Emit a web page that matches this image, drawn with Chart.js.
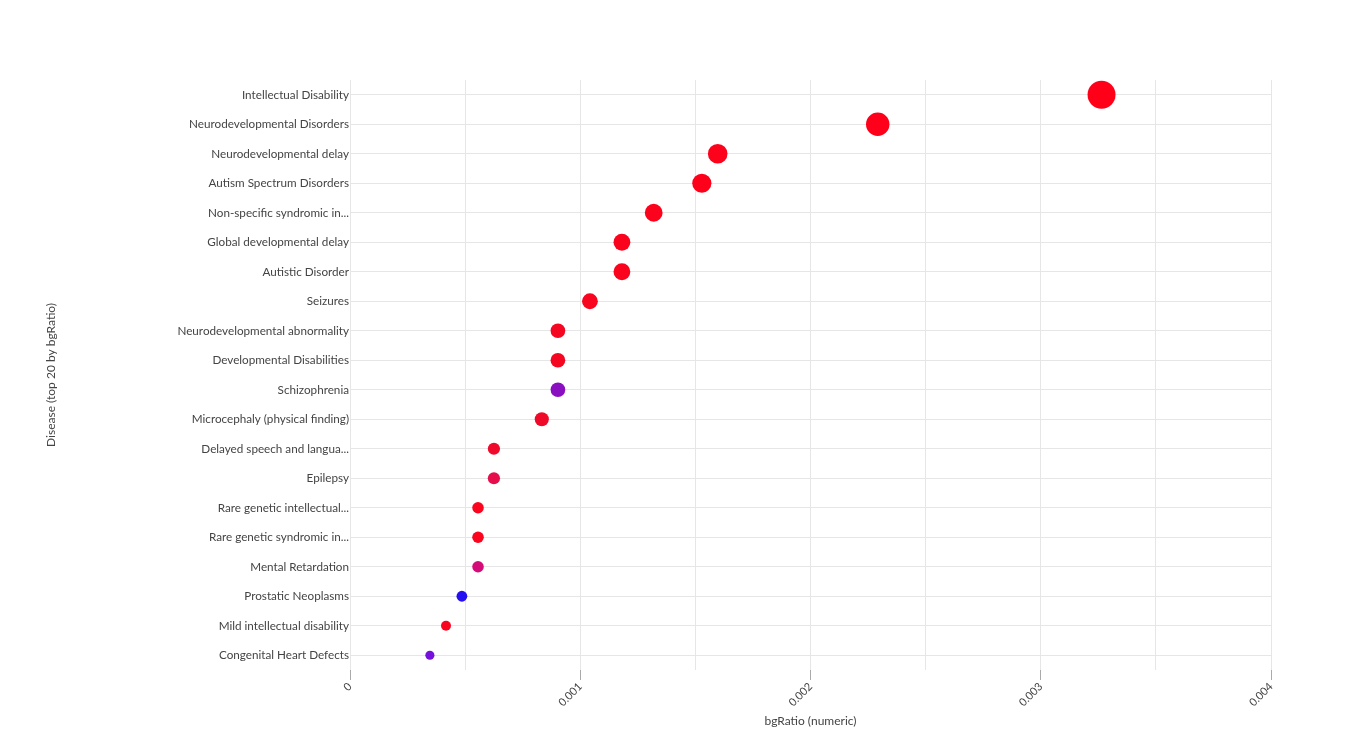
<!DOCTYPE html>
<html>
<head>
<meta charset="utf-8">
<script src="https://cdn.jsdelivr.net/npm/chart.js@4.4.1/dist/chart.umd.min.js"></script>
<style>
  html, body { margin: 0; padding: 0; background: #fff; }
  #wrap { width: 1371px; height: 750px; }
</style>
</head>
<body>
<div id="wrap"><canvas id="diseaseChart"></canvas></div>
<script>
// Disease names, top to bottom
const diseases = [
  "Intellectual Disability",
  "Neurodevelopmental Disorders",
  "Neurodevelopmental delay",
  "Autism Spectrum Disorders",
  "Non-specific syndromic in...",
  "Global developmental delay",
  "Autistic Disorder",
  "Seizures",
  "Neurodevelopmental abnormality",
  "Developmental Disabilities",
  "Schizophrenia",
  "Microcephaly (physical finding)",
  "Delayed speech and langua...",
  "Epilepsy",
  "Rare genetic intellectual...",
  "Rare genetic syndromic in...",
  "Mental Retardation",
  "Prostatic Neoplasms",
  "Mild intellectual disability",
  "Congenital Heart Defects",
];

// bgRatio per disease
const bgRatio = [
  0.003264, 0.002292, 0.001597, 0.001528, 0.001319,
  0.001181, 0.001181, 0.001042, 0.000903, 0.000903,
  0.000903, 0.000833, 0.000625, 0.000625, 0.000556,
  0.000556, 0.000556, 0.000486, 0.000417, 0.000347,
];

// background gene counts (bubble size)
const bgCount = [47, 33, 23, 22, 19, 17, 17, 15, 13, 13, 13, 12, 9, 9, 8, 8, 8, 7, 6, 5];

// marker colours
const markerColors = [
  "#ff0018", "#fe0019", "#fc021b", "#fd011a", "#fb031c",
  "#fa041d", "#fa041d", "#f8051f", "#f50722", "#f50722",
  "#8a0fc0", "#f00a2a", "#f00a2c", "#e60f4c", "#fa041e",
  "#fa041e", "#d40c78", "#2410f0", "#f80520", "#7610dc",
];

// x axis ticks
const X_MIN = 0;
const X_MAX = 0.004;
const X_STEP = 0.0005;

const GRID_COLOR = "#e6e6e6";
const TEXT_COLOR = "#444";
const FONT = "Lato, 'Open Sans', sans-serif";

const isMajor = (v) => Math.round(v * 10000) % 10 === 0;

const points = diseases.map((name, i) => ({
  x: bgRatio[i],
  y: name,
  r: 2.04 * Math.sqrt(bgCount[i]),
}));

const ctx = document.getElementById("diseaseChart").getContext("2d");

new Chart(ctx, {
  type: "bubble",
  data: {
    labels: diseases,
    datasets: [
      {
        label: "Disease",
        data: points,
        backgroundColor: markerColors,
        borderColor: markerColors,
        borderWidth: 0,
        clip: false,
      },
    ],
  },
  options: {
    responsive: true,
    maintainAspectRatio: false,
    animation: false,
    layout: { padding: { left: 40, top: 80, right: 100, bottom: 16 } },
    plugins: {
      legend: { display: false },
      tooltip: { enabled: true },
    },
    scales: {
      x: {
        type: "linear",
        min: X_MIN,
        max: X_MAX,
        border: { display: false },
        grid: {
          color: GRID_COLOR,
          drawTicks: true,
          tickLength: 10,
          tickColor: (c) => (c.tick && isMajor(c.tick.value) ? "#aaa" : "rgba(0,0,0,0)"),
        },
        ticks: {
          stepSize: X_STEP,
          minRotation: 45,
          maxRotation: 45,
          padding: 0,
          color: TEXT_COLOR,
          font: { family: FONT, size: 11 },
          callback: (v) => (isMajor(v) ? String(Number(v.toFixed(4))) : ""),
        },
        title: {
          display: true,
          text: "bgRatio (numeric)",
          color: TEXT_COLOR,
          font: { family: FONT, size: 12 },
          padding: { top: 0, bottom: 6 },
        },
        afterFit: (scale) => {
          scale.height = 64;
        },
      },
      y: {
        type: "category",
        labels: diseases,
        offset: true,
        border: { display: false },
        grid: { color: GRID_COLOR, offset: false, drawTicks: false },
        ticks: {
          padding: 1,
          color: TEXT_COLOR,
          font: { family: FONT, size: 11.7 },
          autoSkip: false,
        },
        title: {
          display: true,
          text: "Disease (top 20 by bgRatio)",
          color: TEXT_COLOR,
          font: { family: FONT, size: 12 },
          padding: { top: 4, bottom: 4 },
        },
        afterFit: (scale) => {
          scale.width = 310;
        },
      },
    },
  },
});
</script>
</body>
</html>
